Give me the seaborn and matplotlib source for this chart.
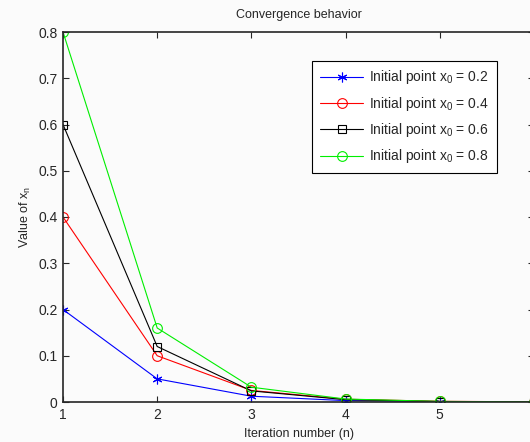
import matplotlib
matplotlib.use('Agg')
import matplotlib.pyplot as plt
import seaborn as sns
import pandas as pd

iterations = [1, 2, 3, 4, 5, 6]
x0_02 = [0.2, 0.05, 0.0125, 0.003, 0.0008, 0.0002]
x0_04 = [0.4, 0.10, 0.025, 0.006, 0.0015, 0.0004]
x0_06 = [0.6, 0.12, 0.024, 0.005, 0.001, 0.0002]
x0_08 = [0.8, 0.16, 0.032, 0.0064, 0.0013, 0.0003]
labels = ['Initial point x$_{\\mathregular{0}}$ = 0.2',
          'Initial point x$_{\\mathregular{0}}$ = 0.4',
          'Initial point x$_{\\mathregular{0}}$ = 0.6',
          'Initial point x$_{\\mathregular{0}}$ = 0.8']
colors = ['#0000ff', '#ff0000', '#000000', '#00ee00']
markers = [(6, 2, 0), 'o', 's', 'o']
msizes = [7, 7, 6, 7]

sns.set_style('ticks')
plt.rcParams['font.family'] = ['Liberation Sans', 'DejaVu Sans']
plt.rcParams['mathtext.fontset'] = 'custom'
plt.rcParams['mathtext.rm'] = 'Liberation Sans'

rows = []
for lab, vals in zip(labels, [x0_02, x0_04, x0_06, x0_08]):
    for n, v in zip(iterations, vals):
        rows.append({'n': n, 'x': v, 'series': lab})
df = pd.DataFrame(rows)

fig = plt.figure(figsize=(5.3, 4.42), dpi=100)
fig.patch.set_facecolor('#fbfbfb')
ax = fig.add_axes([63 / 530, 40 / 442, 471 / 530, 370 / 442])
ax.set_facecolor('#fbfbfb')

sns.lineplot(data=df, x='n', y='x', hue='series',
             palette=dict(zip(labels, colors)),
             linewidth=0.8, ax=ax)


def style_line(line, c, m, ms):
    line.set_marker(m)
    line.set_markeredgecolor(c)
    line.set_markerfacecolor('none')
    line.set_markeredgewidth(0.8)
    line.set_markersize(ms)


for line, c, m, ms in zip(ax.get_lines(), colors, markers, msizes):
    style_line(line, c, m, ms)

ax.set_xlim(1, 6)
ax.set_ylim(0, 0.8)
ax.set_xticks(iterations)
ax.set_xticklabels(['1', '2', '3', '4', '5', ''])
ax.set_yticks([0, 0.1, 0.2, 0.3, 0.4, 0.5, 0.6, 0.7, 0.8])
ax.set_yticklabels(['0', '0.1', '0.2', '0.3', '0.4', '0.5', '0.6', '0.7', '0.8'])
ax.tick_params(direction='in', top=True, right=True, labelsize=10, length=4, width=0.8, pad=4)
for s in ax.spines.values():
    s.set_linewidth(1.2)
    s.set_visible(True)

ax.set_title('Convergence behavior', fontsize=9, pad=10)
ax.set_xlabel('Iteration number (n)', fontsize=9, labelpad=5)
ax.set_ylabel('Value of x$_{\\mathregular{n}}$', fontsize=9, labelpad=4)

handles, labs = ax.get_legend_handles_labels()
for h, c, m, ms in zip(handles, colors, markers, msizes):
    style_line(h, c, m, ms)
    h.set_linewidth(0.8)
leg = ax.legend(handles, labs, loc='upper right', bbox_to_anchor=(0.921, 0.922),
                borderaxespad=0, fontsize=10, fancybox=False, framealpha=1,
                edgecolor='black', handlelength=3.1, labelspacing=0.6,
                handletextpad=0.45, borderpad=0.55)
leg.get_frame().set_linewidth(0.8)
leg.get_frame().set_facecolor('white')

plt.savefig('out.png', dpi=100, facecolor=fig.get_facecolor())
plt.close()
